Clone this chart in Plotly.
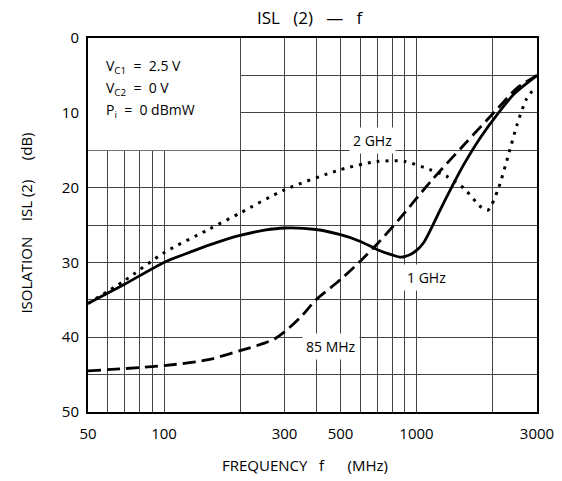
import plotly.graph_objects as go

# ---- data ----
freq_1ghz = [50, 70, 100, 130, 160, 200, 250, 300, 400, 500, 600, 700, 800, 870, 950, 1000, 1070, 1150, 1240, 1380, 1540, 1800, 2100, 2450, 3000]
isl_1ghz = [35.5, 32.9, 30.0, 28.5, 27.4, 26.4, 25.7, 25.4, 25.6, 26.3, 27.2, 28.3, 29.0, 29.3, 28.9, 28.4, 27.3, 25.3, 23.0, 19.9, 16.9, 13.2, 10.1, 7.4, 5.0]

freq_85mhz = [50, 100, 150, 200, 250, 275, 300, 350, 400, 500, 600, 700, 860, 1130, 1540, 2100, 2500, 3000]
isl_85mhz = [44.5, 43.8, 43.0, 41.8, 40.8, 40.2, 39.3, 37.2, 35.0, 32.3, 29.8, 27.5, 24.1, 19.3, 14.3, 9.4, 6.7, 5.0]

freq_2ghz = [50, 70, 100, 150, 200, 300, 500, 700, 900, 1130, 1320, 1540, 1800, 1920, 2100, 2300, 2500, 2720, 2950]
isl_2ghz = [35.5, 32.4, 28.7, 25.6, 23.4, 20.3, 17.6, 16.5, 16.5, 17.6, 18.5, 20.1, 22.6, 23.0, 20.3, 15.9, 11.6, 8.2, 6.6]

x_tickvals = [50, 60, 70, 80, 90, 100, 200, 300, 400, 500, 600, 700, 800, 900, 1000, 2000, 3000]
x_ticktext = ["50", "", "", "", "", "100", "", "300", "", "500", "", "", "", "", "1000", "", "3000"]
y_tickvals = [0, 5, 10, 15, 20, 25, 30, 35, 40, 45, 50]
y_ticktext = ["0", "", "10", "", "20", "", "30", "", "40", "", "50"]

FONT = "Open Sans"
NB = "&nbsp;"

fig = go.Figure()
fig.add_trace(go.Scatter(x=freq_2ghz, y=isl_2ghz, mode="lines",
                         line=dict(color="black", width=3, dash="3px,6px", shape="spline", smoothing=0.7), showlegend=False))
fig.add_trace(go.Scatter(x=freq_85mhz, y=isl_85mhz, mode="lines",
                         line=dict(color="black", width=2.8, dash="13px,6px", shape="spline", smoothing=0.8), showlegend=False))
fig.add_trace(go.Scatter(x=freq_1ghz, y=isl_1ghz, mode="lines",
                         line=dict(color="black", width=2.8, shape="spline", smoothing=0.8), showlegend=False))

# white condition box covering the grid (50-200 MHz, 0-15 dB)
fig.add_shape(type="rect", xref="paper", yref="paper", x0=0, x1=0.3386, y0=0.7, y1=1,
              fillcolor="white", line=dict(width=0), layer="above")

ann = []
cond = [(f"V<sub>C1</sub>{NB}{NB}={NB}{NB}2.5 V", 0.925),
        (f"V<sub>C2</sub>{NB}{NB}={NB}{NB}0 V", 0.865),
        (f"P<sub>i</sub>{NB}{NB}={NB}{NB}0 dBmW", 0.806)]
for txt, yy in cond:
    ann.append(dict(text=txt, xref="paper", yref="paper", x=0.036, y=yy, xanchor="left", yanchor="middle",
                    showarrow=False, font=dict(family=FONT, size=14, color="black")))
for txt, xx, yy in [("2 GHz", 0.633, 0.725), ("1 GHz", 0.753, 0.360), ("85 MHz", 0.541, 0.176)]:
    ann.append(dict(text=txt, xref="paper", yref="paper", x=xx, y=yy, xanchor="center", yanchor="middle",
                    showarrow=False, bgcolor="white", borderpad=3, font=dict(family=FONT, size=14, color="black")))
ann.append(dict(text=f"ISL{NB}{NB}{NB}(2){NB}{NB}{NB}—{NB}{NB}{NB}f", xref="paper", yref="paper", x=0.494, y=1.056,
                xanchor="center", yanchor="middle", showarrow=False, font=dict(family=FONT, size=17, color="black")))
ann.append(dict(text=f"FREQUENCY{NB}{NB}{NB}f{NB}{NB}{NB}{NB}{NB}{NB}(MHz)", xref="paper", yref="paper", x=0.484, y=-0.142,
                xanchor="center", yanchor="middle", showarrow=False, font=dict(family=FONT, size=15, color="black")))
ann.append(dict(text=f"ISOLATION{NB}{NB}{NB}{NB}ISL (2){NB}{NB}{NB}{NB}{NB}(dB)", xref="paper", yref="paper", x=-0.137, y=0.505,
                xanchor="center", yanchor="middle", textangle=-90, showarrow=False,
                font=dict(family=FONT, size=15, color="black")))

fig.update_layout(
    width=562, height=481,
    margin=dict(l=88, r=25, t=38, b=69, autoexpand=False),
    paper_bgcolor="white", plot_bgcolor="white",
    annotations=ann,
    font=dict(family=FONT, size=14, color="black"),
)
fig.update_xaxes(type="log", range=[1.69897, 3.4771213], tickvals=x_tickvals, ticktext=x_ticktext, automargin=False,
                 showgrid=True, gridcolor="#444", gridwidth=1, showline=True, linecolor="black", linewidth=2,
                 mirror=True, ticks="", ticklabelstandoff=7, tickfont=dict(family=FONT, size=15), zeroline=False)
fig.update_yaxes(range=[50, 0], tickvals=y_tickvals, ticktext=y_ticktext, automargin=False,
                 showgrid=True, gridcolor="#444", gridwidth=1, showline=True, linecolor="black", linewidth=2,
                 mirror=True, ticks="", ticklabelstandoff=4, tickfont=dict(family=FONT, size=15), zeroline=False)

fig.write_html("out.html", config={"displayModeBar": False},
               post_script="document.body.style.margin='0';document.body.style.overflow='hidden';")
